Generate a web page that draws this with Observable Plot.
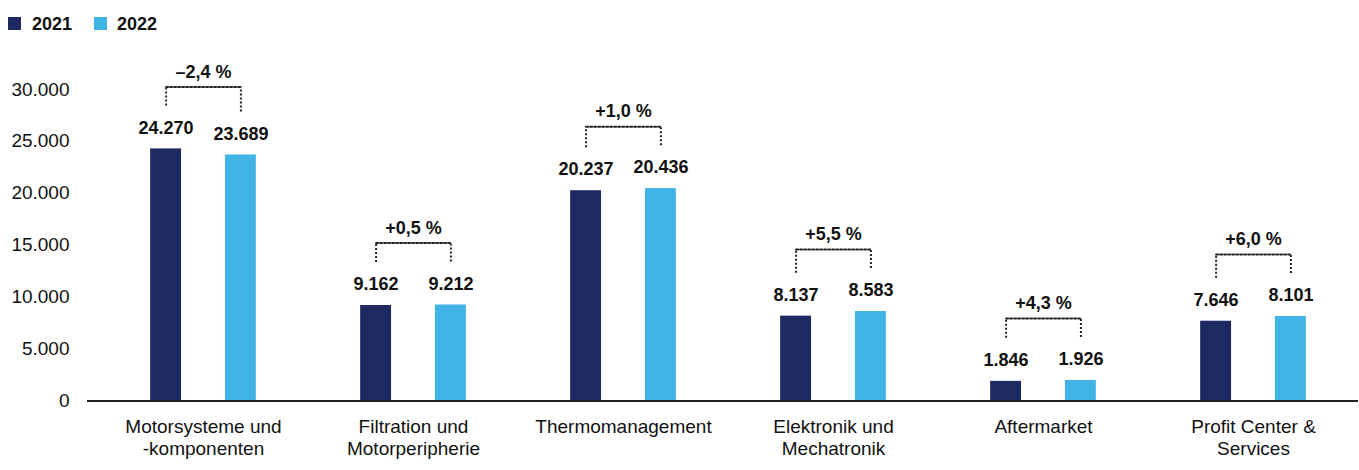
<!DOCTYPE html>
<html><head><meta charset="utf-8">
<script src="https://cdn.jsdelivr.net/npm/d3@7"></script>
<script src="https://cdn.jsdelivr.net/npm/@observablehq/plot@0.6"></script>
<style>
body{margin:0;background:#fff;font-family:"Liberation Sans",Arial,sans-serif;}
#legend{position:relative;height:44px;width:1359px;}
.sw{position:absolute;top:17px;width:13px;height:13px;}
.lb{position:absolute;top:14px;font-weight:bold;font-size:18px;color:#111;line-height:20px;}
</style></head><body>
<div id="legend"></div><div id="chart"></div>
<script>
const categories = ["Motorsysteme und -komponenten", "Filtration und Motorperipherie", "Thermomanagement", "Elektronik und Mechatronik", "Aftermarket", "Profit Center & Services"];
const categoryLabels = ["Motorsysteme und\n-komponenten", "Filtration und\nMotorperipherie", "Thermomanagement", "Elektronik und\nMechatronik", "Aftermarket", "Profit Center &\nServices"];
const years = ["2021", "2022"];
const values2021 = [24270, 9162, 20237, 8137, 1846, 7646];
const values2022 = [23689, 9212, 20436, 8583, 1926, 8101];
const changeLabels = ["–2,4 %", "+0,5 %", "+1,0 %", "+5,5 %", "+4,3 %", "+6,0 %"];
const yTicks = [0, 5000, 10000, 15000, 20000, 25000, 30000];
const colors = ["#1f2961", "#40b4e4"];

const W = 1359, H = 426, mTop = 45, mBottom = 70, yMaxDomain = 30000;
const unitsPerPx = yMaxDomain / (H - mTop - mBottom);
const de = d3.formatLocale({decimal: ",", thousands: ".", grouping: [3], currency: ["", " €"]});
const fmt = de.format(",d");

const rows = [];
categories.forEach((c, i) => {
  const vals = [values2021[i], values2022[i]];
  const mx = Math.max(...vals);
  years.forEach((y, j) => {
    rows.push({
      category: c, label: categoryLabels[i], year: y, value: vals[j],
      change: changeLabels[i],
      bracketBottom: vals[j] + 43 * unitsPerPx,
      bracketTop: mx + 62 * unitsPerPx
    });
  });
});

// legend
const leg = document.getElementById("legend");
const legPos = [[8, 32], [94, 117]];
years.forEach((y, j) => {
  const s = document.createElement("div"); s.className = "sw";
  s.style.left = legPos[j][0] + "px"; s.style.background = colors[j]; leg.appendChild(s);
  const t = document.createElement("div"); t.className = "lb";
  t.style.left = legPos[j][1] + "px"; t.textContent = y; leg.appendChild(t);
});

const is21 = d => d.year === "2021";
const dotted = {stroke: "#222", strokeWidth: 2, strokeDasharray: "2,2"};

const chart = Plot.plot({
  width: W, height: H,
  marginTop: mTop, marginBottom: mBottom, marginLeft: 96, marginRight: 0,
  style: {fontFamily: "'Liberation Sans', Arial, sans-serif", fontSize: "19px", color: "#111", background: "#fff", overflow: "visible"},
  facet: {data: rows, x: "category"},
  fx: {domain: categories, padding: 0, axis: null, label: null},
  x: {domain: years, paddingInner: 0.587, paddingOuter: 0.697, round: false, axis: null, label: null},
  y: {domain: [0, yMaxDomain], ticks: yTicks, tickFormat: fmt, tickSize: 0, tickPadding: 29, label: null, grid: false},
  color: {domain: years, range: colors},
  marks: [
    Plot.barY(rows, {x: "year", y: "value", fill: "year"}),
    Plot.ruleY(rows, {filter: is21, y: () => 0, stroke: "#222", strokeWidth: 2, dy: 0.5, insetLeft: -11}),
    Plot.text(rows, {x: "year", y: "value", text: d => fmt(d.value), dy: -21, fontWeight: "bold", fontSize: 18, fill: "#111"}),
    Plot.ruleX(rows, {x: "year", y1: "bracketBottom", y2: "bracketTop", ...dotted}),
    Plot.line(rows, {x: "year", y: "bracketTop", ...dotted}),
    Plot.text(rows, {filter: is21, y: "bracketTop", text: "change", dy: -15, fontWeight: "bold", fontSize: 18, fill: "#111"}),
    Plot.text(rows, {filter: is21, text: "label", frameAnchor: "bottom", lineAnchor: "top", dy: 17, lineHeight: 1.15, fontSize: 19, fill: "#111"})
  ]
});
document.getElementById("chart").appendChild(chart);
</script>
</body></html>
